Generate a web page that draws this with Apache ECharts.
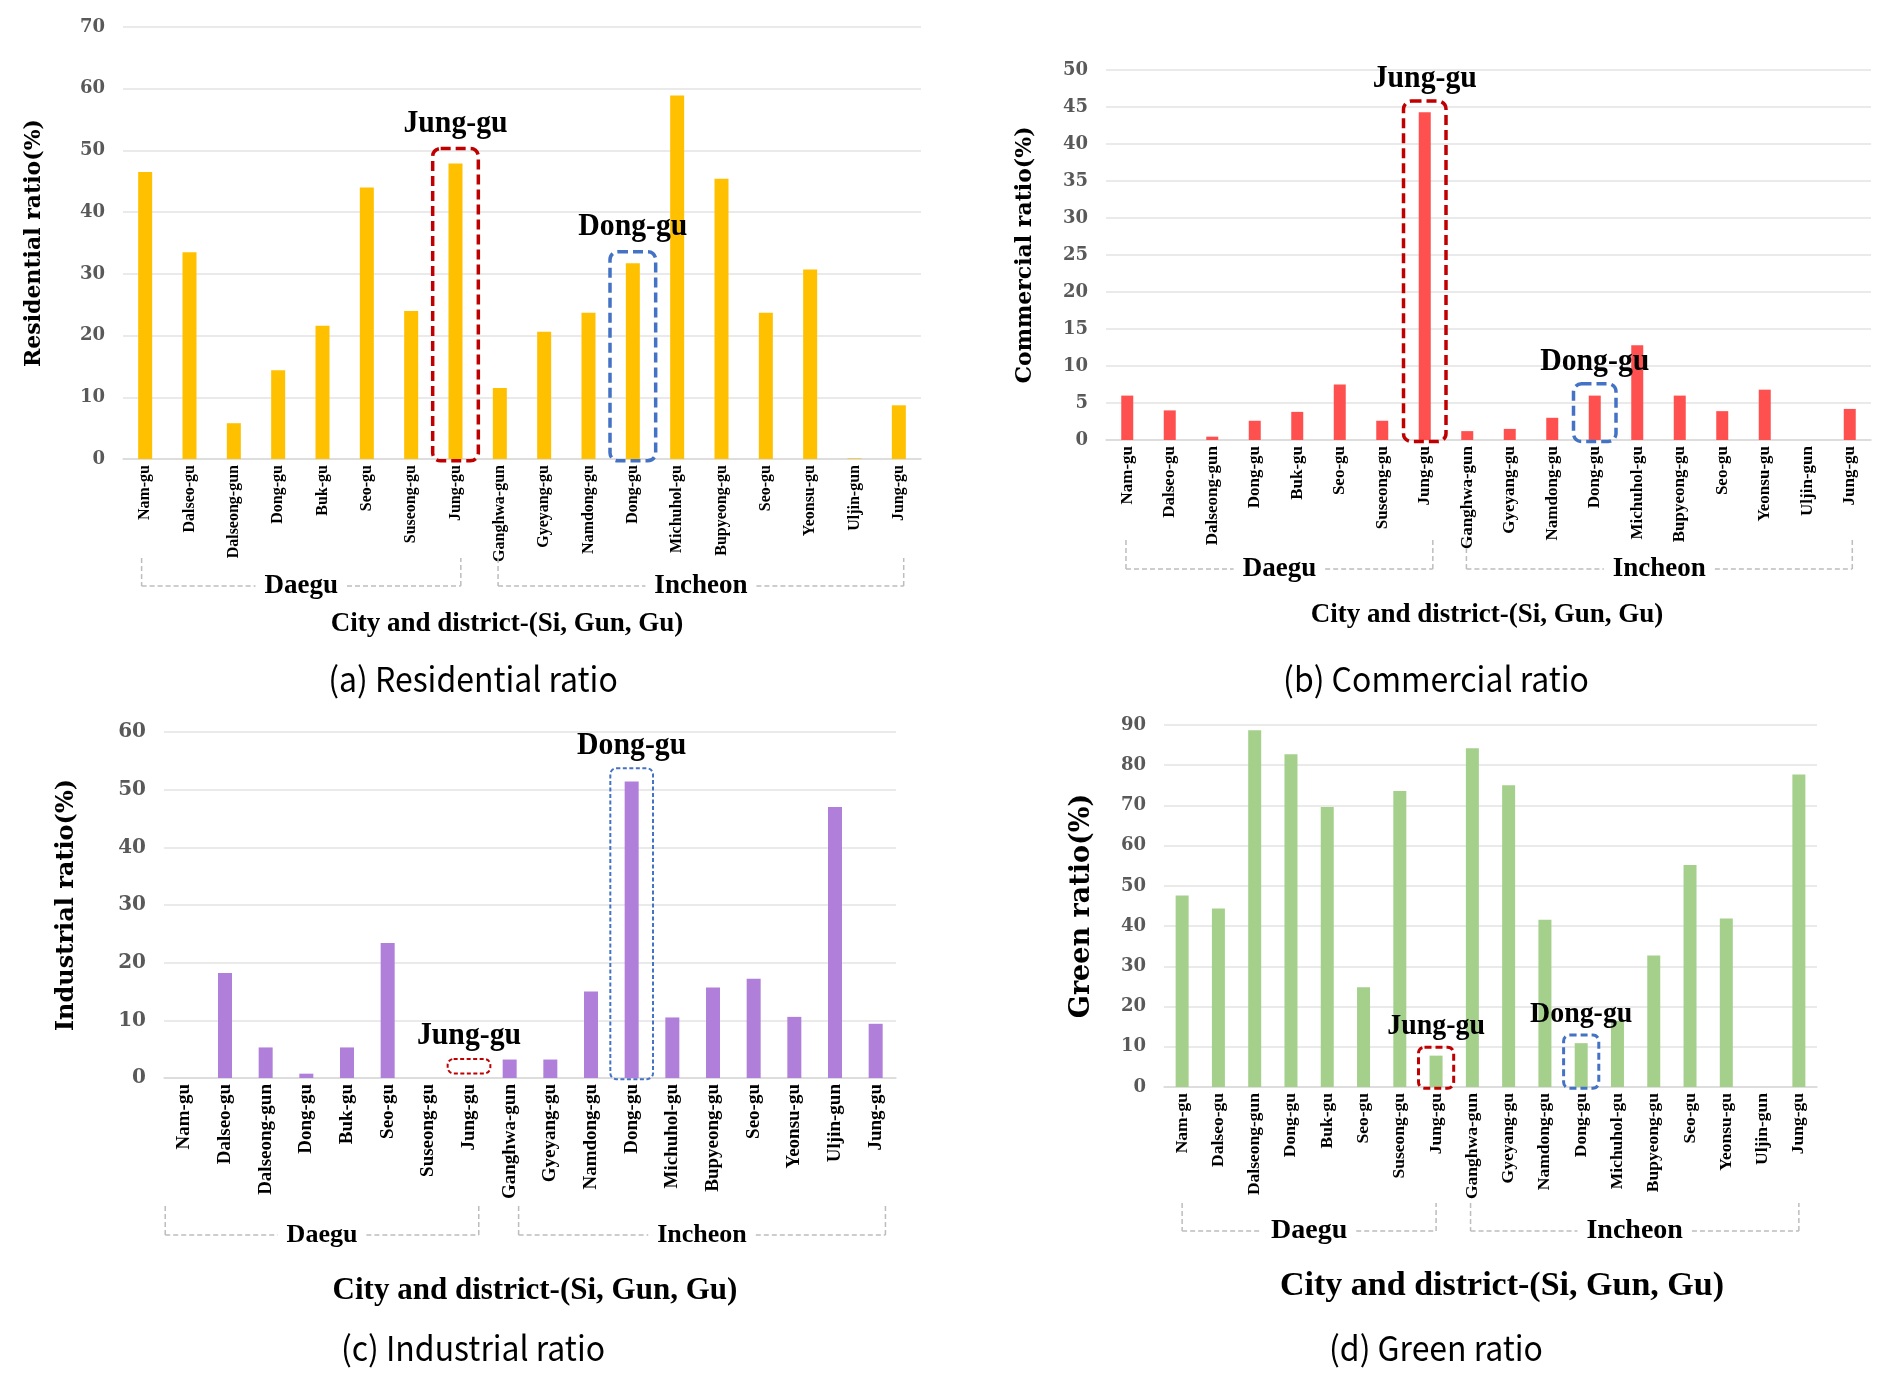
<!DOCTYPE html>
<html><head><meta charset="utf-8">
<script src="https://cdn.jsdelivr.net/npm/echarts@6/dist/echarts.min.js"></script>
<style>html,body{margin:0;padding:0;background:#fff}#c{width:1892px;height:1375px}</style>
</head><body><div id="c"></div>
<script>
// ---------------- data ----------------
const categories = ['Nam-gu','Dalseo-gu','Dalseong-gun','Dong-gu','Buk-gu','Seo-gu','Suseong-gu','Jung-gu',
  'Ganghwa-gun','Gyeyang-gu','Namdong-gu','Dong-gu','Michuhol-gu','Bupyeong-gu','Seo-gu','Yeonsu-gu','Uljin-gun','Jung-gu'];
const residential = [46.5,33.5,5.8,14.4,21.6,44.0,24.0,47.9,11.5,20.6,23.7,31.7,58.9,45.4,23.7,30.7,0.1,8.7];
const commercial  = [6.0,4.0,0.45,2.6,3.8,7.5,2.6,44.3,1.2,1.5,3.0,6.0,12.8,6.0,3.9,6.8,0,4.2];
const industrial  = [0,18.2,5.3,0.75,5.3,23.4,0,0,3.2,3.2,15.0,51.4,10.5,15.7,17.2,10.6,47.0,9.4];
const green       = [47.6,44.4,88.7,82.7,69.6,24.8,73.6,7.8,84.2,75.0,41.6,10.9,16.5,32.7,55.2,41.9,0,77.7];
const groups = [{name:'Daegu', from:0, to:7},{name:'Incheon', from:8, to:17}];
const yMaxA = 70, yStepA = 10;
const yMaxB = 50, yStepB = 5;
const yMaxC = 60, yStepC = 10;
const yMaxD = 90, yStepD = 10;
const yNames = ['Residential ratio(%)','Commercial ratio(%)','Industrial ratio(%)','Green ratio(%)'];
const captions = ['(a) Residential ratio','(b) Commercial ratio','(c) Industrial ratio','(d) Green ratio'];
const xTitle = 'City and district-(Si, Gun, Gu)';
// highlight boxes: [category index, box top value, box bottom value, label, colour key]
const annotA = [[7,50.3,-0.3,'Jung-gu','red'],[11,33.6,-0.3,'Dong-gu','blue']];
const annotB = [[7,45.8,-0.2,'Jung-gu','red'],[11,7.6,-0.2,'Dong-gu','blue']];
const annotC = [[11,53.7,-0.2,'Dong-gu','blue'],[7,3.3,0.8,'Jung-gu','red']];
const annotD = [[7,9.9,-0.3,'Jung-gu','red'],[11,12.9,-0.3,'Dong-gu','blue']];

// ---------------- layout / style ----------------
const panels = [
  {grid:{left:123,top:27,width:798,height:432}, data:residential, color:'#FFC000', max:yMaxA, step:yStepA, barW:14,
   nameGap:78, nameSize:22, tick:18, xl:16, annot:annotA, box:{wf:1.03,lw:3.5,dash:[10,5],r:8,gap:25,font:32,sx:0.93},
   br:{top:99,bot:127,ext:[-0.08,0.12,-0.04,0.11],font:27}, xt:{x:507,y:624,f:27}, cap:{x:473,y:679}},
  {grid:{left:1106,top:70,width:765,height:370}, data:commercial, color:'#FF5050', max:yMaxB, step:yStepB, barW:12,
   nameGap:70, nameSize:22, tick:18, xl:17, annot:annotB, box:{wf:1.0,lw:3.5,dash:[10,5],r:8,gap:22,font:32,sx:0.93},
   br:{top:100,bot:129,ext:[-0.03,0.19,-0.02,0.06],font:27}, xt:{x:1487,y:615,f:27}, cap:{x:1436,y:679}},
  {grid:{left:164,top:732,width:732,height:346}, data:industrial, color:'#B07FD9', max:yMaxC, step:yStepC, barW:14,
   nameGap:85, nameSize:24, tick:20, xl:19, annot:annotC, box:{wf:1.05,lw:2,dash:[4,2.5],r:6,gap:23,font:32,sx:0.93},
   br:{top:128,bot:157,ext:[-0.47,0.24,0.22,0.24],font:26}, xt:{x:535,y:1291,f:31}, cap:{x:473,y:1348}},
  {grid:{left:1164,top:725,width:653,height:362}, data:green, color:'#A5D08C', max:yMaxD, step:yStepD, barW:13,
   nameGap:69, nameSize:27, tick:18, xl:17.5, annot:annotD, box:{wf:0.97,lw:3,dash:[7,4],r:6,gap:21,font:30,sx:0.93},
   br:{top:116,bot:144,ext:[0,0,-0.05,0],font:28}, xt:{x:1502,y:1286,f:34}, cap:{x:1436,y:1348}}
];
const boxColors = {red:'#C00000', blue:'#4472C4'};
const serif = '"Liberation Serif", "Times New Roman", serif';
const wideSerif = '"DejaVu Serif", serif';

const mctx = document.createElement('canvas').getContext('2d');
function textW(font, t){ mctx.font = font; return mctx.measureText(t).width; }

function annotSeries(gi, p){
  const items = p.annot, st = p.box;
  return {type:'custom', xAxisIndex:gi, yAxisIndex:gi, clip:false, silent:true, z:5,
    data: items.map(a=>[a[0], a[1]]),
    renderItem: function(params, api){
      const a = items[params.dataIndex];
      const top = api.coord([api.value(0), api.value(1)]);
      const base = api.coord([api.value(0), a[2]]);
      const bw = api.size([1,0])[0]*st.wf;
      const c = boxColors[a[4]];
      return {type:'group', children:[
        {type:'rect', shape:{x:top[0]-bw/2, y:top[1], width:bw, height:base[1]-top[1], r:st.r},
         style:{fill:'none', stroke:c, lineWidth:st.lw, lineDash:st.dash}},
        {type:'text', x:top[0], y:top[1]-st.gap, scaleX:st.sx,
         style:{text:a[3], x:0, y:0, align:'center', verticalAlign:'middle', fill:'#000',
                font:'bold '+st.font+'px '+serif}}
      ]};
    }};
}

function bracketSeries(gi, p){
  const st = p.br;
  return {type:'custom', xAxisIndex:gi, yAxisIndex:gi, clip:false, silent:true, z:5,
    data: groups.map(g=>[g.from, 0]),
    renderItem: function(params, api){
      const gIdx = params.dataIndex, g = groups[gIdx];
      const p0 = api.coord([g.from, 0]), p1 = api.coord([g.to, 0]);
      const bw = api.size([1,0])[0];
      const x0 = p0[0] + bw*st.ext[gIdx*2], x1 = p1[0] + bw*st.ext[gIdx*2+1];
      const yT = p0[1] + st.top, yB = p0[1] + st.bot;
      const font = 'bold '+st.font+'px '+serif;
      const half = textW(font, g.name)/2 + 9;
      const xm = (x0+x1)/2;
      const ls = {stroke:'#BDBDBD', lineWidth:1.5, lineDash:[5,3]};
      return {type:'group', children:[
        {type:'line', shape:{x1:x0,y1:yT,x2:x0,y2:yB}, style:ls},
        {type:'line', shape:{x1:x0,y1:yB,x2:xm-half,y2:yB}, style:ls},
        {type:'line', shape:{x1:xm+half,y1:yB,x2:x1,y2:yB}, style:ls},
        {type:'line', shape:{x1:x1,y1:yB,x2:x1,y2:yT}, style:ls},
        {type:'text', x:xm, y:yB, style:{text:g.name, x:0, y:0, align:'center', verticalAlign:'middle', fill:'#000', font:font}}
      ]};
    }};
}

const option = {
  animation:false,
  backgroundColor:'#fff',
  grid: panels.map(p=>p.grid),
  xAxis: panels.map((p,i)=>({type:'category', gridIndex:i, data:categories,
    axisTick:{show:false}, axisLine:{lineStyle:{color:'#D9D9D9', width:1.5}},
    axisLabel:{interval:0, rotate:90, margin:6, color:'#000', fontFamily:serif, fontWeight:'bold', fontSize:p.xl}})),
  yAxis: panels.map((p,i)=>({type:'value', gridIndex:i, min:0, max:p.max, interval:p.step,
    axisLine:{show:false}, axisTick:{show:false},
    splitLine:{lineStyle:{color:'#E3E3E3', width:1.5}},
    axisLabel:{margin:18, color:'#595959', fontFamily:wideSerif, fontWeight:'bold', fontSize:p.tick},
    name:yNames[i], nameLocation:'middle', nameGap:p.nameGap,
    nameTextStyle:{color:'#000', fontFamily:wideSerif, fontWeight:'bold', fontSize:p.nameSize}})),
  series: [].concat(
    panels.map((p,i)=>({type:'bar', xAxisIndex:i, yAxisIndex:i, data:p.data, barWidth:p.barW,
      itemStyle:{color:p.color}})),
    panels.map((p,i)=>annotSeries(i,p)),
    panels.map((p,i)=>bracketSeries(i,p))
  ),
  graphic: [].concat(
    panels.map(p=>({type:'text', x:p.xt.x, y:p.xt.y, style:{text:xTitle, x:0, y:0, align:'center', verticalAlign:'middle',
      textAlign:'center', textVerticalAlign:'middle', fill:'#000', font:'bold '+p.xt.f+'px '+serif}})),
    panels.map((p,i)=>({type:'text', x:p.cap.x, y:p.cap.y, scaleX:0.94, style:{text:captions[i], x:0, y:0, align:'center', verticalAlign:'middle',
      textAlign:'center', textVerticalAlign:'middle', fill:'#000', font:'34px "Noto Sans CJK KR", "Noto Sans", sans-serif'}}))
  )
};
const chart = echarts.init(document.getElementById('c'));
chart.setOption(option);
</script></body></html>
